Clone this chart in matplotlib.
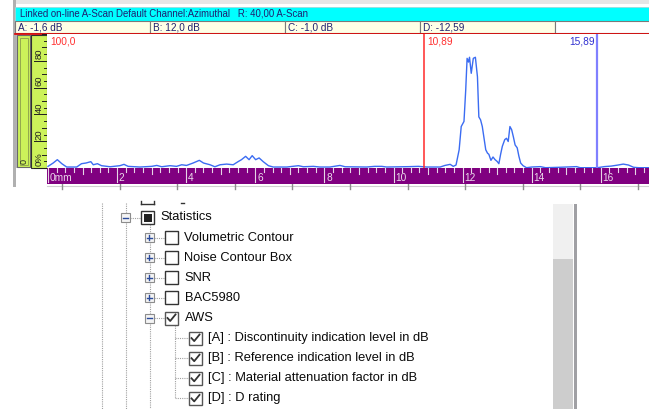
import numpy as np
import matplotlib.pyplot as plt
from matplotlib.patches import Rectangle

# A-scan trace: depth (mm) vs amplitude (% full screen height)
depth_mm = [0.0, 0.15, 0.27, 0.4, 0.54, 0.83, 0.97, 1.1, 1.24, 1.31, 1.43, 1.55,
            1.8, 2.08, 2.2, 2.32, 2.66, 3.0, 3.15, 3.29, 3.53, 3.72, 3.87, 4.01,
            4.2, 4.38, 4.5, 4.69, 4.83, 4.98, 5.17, 5.36, 5.5, 5.6, 5.72, 5.82,
            5.91, 6.01, 6.11, 6.23, 6.38, 6.52, 6.91, 7.25, 7.39, 7.68, 7.87,
            8.16, 8.45, 8.6, 9.22, 9.46, 9.66, 9.8, 10.47, 10.72, 10.96, 11.35,
            11.49, 11.64, 11.73, 11.81, 11.9, 11.96, 12.04, 12.09, 12.13, 12.17,
            12.2, 12.25, 12.31, 12.37, 12.43, 12.47, 12.52, 12.57, 12.67, 12.72,
            12.76, 12.82, 12.88, 12.94, 13.0, 13.05, 13.1, 13.15, 13.22, 13.27,
            13.32, 13.37, 13.42, 13.47, 13.52, 13.58, 13.63, 13.68, 13.75, 13.85,
            14.0, 14.25, 14.4, 14.8, 15.3, 15.4, 15.9, 16.1, 16.3, 16.5, 16.65,
            16.8, 16.95, 17.1, 17.4]
amp_pct = [1, 3.5, 6, 3, 0.5, 0.5, 3, 3.5, 4.5, 2.2, 3, 1.5,
           0.7, 1.5, 2.5, 1, 0.5, 1, 1.7, 0.7, 1.5, 1, 2.2, 1.7,
           3.5, 5.5, 3.5, 2.2, 0.7, 2.2, 2.7, 2.2, 4.5, 6, 8.5, 6,
           9, 6, 7.3, 4.5, 1.5, 0.5, 0.5, 1.5, 0.7, 1, 0.5,
           0.5, 1.7, 0.7, 0.5, 1, 1, 0.5, 0.8, 1, 0.5, 0.5,
           1.7, 2.5, 1, 2, 13.4, 30.8, 34.6, 58, 81.8, 79,
           82.6, 70.6, 81.8, 82.6, 68, 38, 35.8, 30.8, 13.4, 10.9,
           10, 5.5, 8, 6, 4.7, 3, 10, 16, 21, 22,
           19.6, 30.8, 28.4, 23, 17, 14.9, 8.5, 3.5, 1.5, 0,
           0.5, 0.8, 0, 0.3, 0.8, 0, 0, 0.8, 1.2, 2, 2.7,
           2, 0.3, 0, 0]

cursor_red = 10.89
cursor_blue = 15.89
ref_label = '100,0'

title_text = 'Linked on-line A-Scan Default Channel:Azimuthal   R: 40,00 A-Scan'
readouts = ['A: -1,6 dB', 'B: 12,0 dB', 'C: -1,0 dB', 'D: -12,59']

amp_ticks = [0, 20, 40, 60, 80]
amp_labels = ['0%', '20', '40', '60', '80']
depth_ticks = [0, 2, 4, 6, 8, 10, 12, 14, 16]
depth_labels = ['0mm', '2', '4', '6', '8', '10', '12', '14', '16']

# tree view rows: (indent level, text, check state, expander)
tree_rows = [
    (0, 'Statistics', 'partial', '-'),
    (1, 'Volumetric Contour', 'off', '+'),
    (1, 'Noise Contour Box', 'off', '+'),
    (1, 'SNR', 'off', '+'),
    (1, 'BAC5980', 'off', '+'),
    (1, 'AWS', 'on', '-'),
    (2, '[A] : Discontinuity indication level in dB', 'on', None),
    (2, '[B] : Reference indication level in dB', 'on', None),
    (2, '[C] : Material attenuation factor in dB', 'on', None),
    (2, '[D] : D rating', 'on', None),
]

W, H = 649, 409
fig = plt.figure(figsize=(W / 100, H / 100), dpi=100)
ui = fig.add_axes([0, 0, 1, 1])
ui.set_xlim(0, W)
ui.set_ylim(H, 0)
ui.axis('off')

def box(x0, y0, x1, y1, fc='none', ec='none', lw=1, z=1):
    ui.add_patch(Rectangle((x0, y0), x1 - x0, y1 - y0, facecolor=fc,
                           edgecolor=ec, linewidth=lw, zorder=z))

ui_font = 'Liberation Sans'
navy = '#1f2070'

# window chrome
box(13, 0, W, 4, fc='#e6e6e6')
box(13, 0, 16, 187, fc='#b0b0b0')
box(15, 7, W + 2, 21, fc='#00ffff', ec='#9adada', lw=0.6)
ui.text(20, 14, title_text, fontsize=6.95, family=ui_font, color=navy,
        va='center', ha='left')
cells = [15, 150, 285, 420, 555]
for i, txt in enumerate(readouts):
    box(cells[i], 21, cells[i + 1], 32.5, fc='#ffffe6', ec='#7a7a7a', lw=0.8)
    ui.text(cells[i] + 3, 27, txt, fontsize=7.2, family=ui_font, color=navy,
            va='center', ha='left')
box(555, 21, W + 2, 32.5, fc='white', ec='#7a7a7a', lw=0.8)
ui.plot([15, W], [33.5, 33.5], color='#e00000', lw=1.2, zorder=3)

# left amplitude rulers
box(16, 34, 47, 168, fc='#b9b9b9')
box(17, 35, 30, 167, fc='#ccf25a', ec='#6a6a6a', lw=0.8, z=2)
box(19.5, 37.5, 28, 164.5, fc='none', ec='#93a84e', lw=0.7, z=2)
ui.text(24, 161, '0', rotation=90, fontsize=6.5, family=ui_font, color='#222222',
        ha='center', va='center', zorder=3)
box(31, 35, 47, 168, fc='#ccf25a', ec='#303030', lw=0.8, z=2)

def amp_y(p):
    return 168 - p * 1.34

for p in range(0, 101, 5):
    ln = 3 if p % 10 else 5
    ui.plot([47 - ln, 47], [amp_y(p), amp_y(p)], color='#202020', lw=0.7, zorder=3)
for p, lab in zip(amp_ticks, amp_labels):
    ui.plot([34, 47], [amp_y(p), amp_y(p)], color='#202020', lw=0.7, zorder=3)
    ui.text(39, amp_y(p) - 1.5, lab, rotation=90, fontsize=6.8, family=ui_font,
            color='#202020', ha='center', va='bottom', zorder=3)

# A-scan plot area
mm_per_px = 1 / 34.55
x_lo = (47 - 48) * mm_per_px
x_hi = (W - 48) * mm_per_px
ax = fig.add_axes([47 / W, (H - 168.5) / H, (W - 47) / W, 134.5 / H])
ax.set_xlim(x_lo, x_hi)
ax.set_ylim(-0.6, 100)
ax.set_facecolor('white')
ax.plot(depth_mm, amp_pct, color='#3b6cf2', lw=1.0)
ax.axvline(cursor_red, color='#ff2a2a', lw=1.1)
ax.axvline(cursor_blue, color='#8080ff', lw=1.6)
ax.text(0.07, 94.5, ref_label, color='#ff3030', fontsize=7.3, family=ui_font,
        va='center', ha='left')
ax.text(cursor_red + 0.09, 94.5, f'{cursor_red:.2f}'.replace('.', ','),
        color='#ff3030', fontsize=7.3, family=ui_font, va='center', ha='left')
ax.text(cursor_blue - 0.06, 94.5, f'{cursor_blue:.2f}'.replace('.', ','),
        color='#3030d0', fontsize=7.3, family=ui_font, va='center', ha='right')
ax.set_xticks([])
ax.set_yticks([])
for s in ax.spines.values():
    s.set_visible(False)

# depth ruler
rx = fig.add_axes([47 / W, (H - 184) / H, (W - 47) / W, 16 / H])
rx.set_xlim(x_lo, x_hi)
rx.set_ylim(16, 0)
rx.set_facecolor('#800080')
rx.set_xticks([])
rx.set_yticks([])
for s in rx.spines.values():
    s.set_visible(False)
for q in np.arange(0, 17.6, 0.25):
    if abs(q % 2) < 1e-6:
        ln = 14
    elif abs(q % 1) < 1e-6:
        ln = 6
    else:
        ln = 3.5
    rx.plot([q, q], [0, ln], color='#e6d6e6', lw=0.8)
for t, lab in zip(depth_ticks, depth_labels):
    rx.text(t + 0.05, 10, lab, color='#ead8ea', fontsize=7.3, family=ui_font,
            va='center', ha='left')

ui.plot([47, W], [185.5, 185.5], color='#d0d0d0', lw=0.8)
for gx in np.arange(62, W, 57.6):
    ui.plot([gx, gx], [184, 188.5], color='#8c8c8c', lw=1)

# tree view
dot = dict(color='#a0a0a0', lw=0.8, linestyle=(0, (1, 1)), zorder=2)
ui.plot([102, 102], [203, H], **dot)
ui.plot([126, 126], [203, H], **dot)
ui.plot([150, 150], [224, H], **dot)
ui.plot([175, 175], [325, 398], **dot)

# partially scrolled row above Statistics
ui.plot([141, 154], [204, 204], color='#333333', lw=1)
ui.plot([141, 141], [201, 204], color='#333333', lw=1)
ui.plot([154, 154], [201, 204], color='#333333', lw=1)
ui.plot([181, 184], [202.5, 202.5], color='#333333', lw=1)

tree_font = 'Liberation Sans'
row_y0, row_dy = 217.5, 20.1
for i, (lvl, txt, state, exp) in enumerate(tree_rows):
    cy = row_y0 + i * row_dy
    cb = 141 + 24 * lvl
    if exp:
        ex = cb - 16
        ui.plot([ex + 4.5, cb], [cy, cy], **dot)
        box(ex - 4.5, cy - 4.5, ex + 4.5, cy + 4.5, fc='#f4f4f4', ec='#8c8c8c',
            lw=0.8, z=3)
        ui.plot([ex - 2.5, ex + 2.5], [cy, cy], color='#2a4a9a', lw=1, zorder=4)
        if exp == '+':
            ui.plot([ex, ex], [cy - 2.5, cy + 2.5], color='#2a4a9a', lw=1, zorder=4)
    else:
        ui.plot([175, cb], [cy, cy], **dot)
    ec = '#333333' if state != 'on' else '#555555'
    box(cb, cy - 6.5, cb + 13, cy + 6.5, fc='white', ec=ec, lw=1, z=3)
    if state == 'partial':
        box(cb + 2.5, cy - 4, cb + 10.5, cy + 4, fc='#222222', z=4)
    elif state == 'on':
        ui.plot([cb + 2.5, cb + 5.2, cb + 10.5], [cy, cy + 3, cy - 3.5],
                color='#333333', lw=1.3, zorder=4)
    ui.text(cb + 19.5, cy, txt, fontsize=9.3, family=tree_font, color='#0a0a0a',
            va='center', ha='left')

# scroll bar
box(553, 204, 573, 259, fc='#f0f0f0')
box(553, 259, 573, H, fc='#cdcdcd')
box(574, 204, 576.5, H, fc='#a0a0a4')

fig.savefig('out.png', dpi=100)
